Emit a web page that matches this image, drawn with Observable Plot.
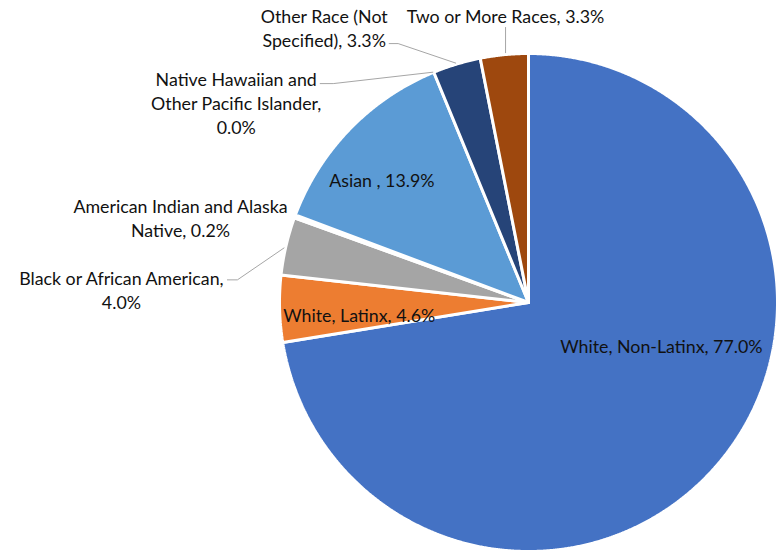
<!DOCTYPE html>
<html>
<head>
<meta charset="utf-8">
<script src="https://cdn.jsdelivr.net/npm/d3@7"></script>
<script src="https://cdn.jsdelivr.net/npm/@observablehq/plot@0.6"></script>
<style>
  html, body { margin: 0; padding: 0; background: #ffffff; }
  #chart { width: 778px; height: 553px; }
</style>
</head>
<body>
<div id="chart"></div>
<script>
// ---- data ----
const categories = [
  "White, Non-Latinx",
  "White, Latinx",
  "Black or African American",
  "American Indian and Alaska Native",
  "Asian ",
  "Native Hawaiian and Other Pacific Islander",
  "Other Race (Not Specified)",
  "Two or More Races"
];
const values = [77.0, 4.6, 4.0, 0.2, 13.9, 0.0, 3.3, 3.3];
const colors = ["#4472C4", "#ED7D31", "#A5A5A5", "#FFC000", "#5B9BD5", "#70AD47", "#264478", "#9E480E"];

// ---- layout (label placement, not data) ----
const W = 778, H = 553;
const R = 249, CX = 528, CY = 302;          // pie radius and centre in px
const labelR = [0.5, 0.68, 1, 1, 0.77, 1, 1, 1];
const labelDX = [38, 0, -164.6, -114.4, -9, -197.6, -132.5, 1.3];
const labelDY = [-37.5, 8, 43, 1.2, 10, 30.4, -36.5, -39.2];
const wrapChars = [99, 99, 26, 26, 99, 23, 16, 99];
const leaders = [
  null, null,
  [[-2, 2], [-48.6, 33.9], [-58.6, 33.9]],
  null, null,
  [[-1, 0], [-100.6, 11.4], [-113.6, 11.4]],
  [[-1, -1], [-58.5, -20.5], [-67.5, -20.5]],
  [[1.3, -2], [1.3, -27.2]]
];

function wrap(text, n) {
  const words = text.split(" ");
  const lines = [];
  let cur = "";
  for (const w of words) {
    const t = cur ? cur + " " + w : w;
    if (t.length > n && cur) { lines.push(cur); cur = w; } else cur = t;
  }
  if (cur) lines.push(cur);
  return lines.join("\n");
}

const rows = categories.map((name, i) => ({name, value: values[i], i}));
const arcs = d3.pie().sort(null).value(d => d.value)(rows);

// slice polygons in unit coordinates (radius 1)
const polys = [];
for (const a of arcs) {
  if (a.endAngle - a.startAngle <= 0) continue;
  const name = a.data.name;
  polys.push({name, x: 0, y: 0});
  const steps = Math.max(2, Math.ceil((a.endAngle - a.startAngle) / (Math.PI / 720)));
  for (let k = 0; k <= steps; k++) {
    const t = a.startAngle + (a.endAngle - a.startAngle) * k / steps;
    polys.push({name, x: Math.sin(t), y: Math.cos(t)});
  }
  polys.push({name, x: 0, y: 0});
}

const labels = [];
const leaderPts = [];
arcs.forEach((a, j) => {
  const i = a.data.i;
  const m = (a.startAngle + a.endAngle) / 2;
  const ox = labelR[i] * Math.sin(m), oy = labelR[i] * Math.cos(m);
  const text = wrap(`${a.data.name}, ${a.data.value.toFixed(1)}%`, wrapChars[i]);
  labels.push({x: ox + labelDX[i] / R, y: oy - labelDY[i] / R, text});
  if (leaders[i]) {
    const bx = Math.sin(m), by = Math.cos(m);
    for (const [dx, dy] of leaders[i]) leaderPts.push({name: a.data.name, x: bx + dx / R, y: by - dy / R});
  }
});

const chart = Plot.plot({
  width: W,
  height: H,
  margin: 0,
  x: {domain: [-CX / R, (W - CX) / R], range: [0, W], axis: null},
  y: {domain: [-(H - CY) / R, CY / R], range: [H, 0], axis: null},
  color: {domain: categories, range: colors},
  style: {fontFamily: "Lato, 'Open Sans', sans-serif", background: "#ffffff"},
  marks: [
    Plot.line(polys, {x: "x", y: "y", z: "name", fill: "name", stroke: "#ffffff", strokeWidth: 3, strokeLinejoin: "miter", curve: "linear"}),
    Plot.line(leaderPts, {x: "x", y: "y", z: "name", stroke: "#A6A6A6", strokeWidth: 1}),
    Plot.text(labels, {x: "x", y: "y", text: "text", fontSize: 17.8, lineHeight: 1.34, fill: "#111111", textAnchor: "middle"})
  ]
});
document.getElementById("chart").appendChild(chart);
</script>
</body>
</html>
